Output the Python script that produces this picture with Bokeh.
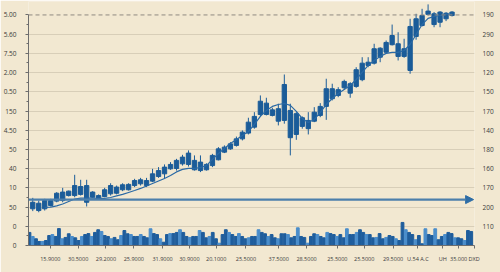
import math
from bokeh.plotting import figure
from bokeh.models import (Range1d, LinearAxis, FixedTicker, Span, Arrow, NormalHead, ColumnDataSource)
from bokeh.embed import file_html
from bokeh.resources import INLINE

# ---------------- data ----------------
open_ = [19.1, 22.0, 19.1, 20.8, 23.1, 23.4, 26.0, 26.0, 26.6, 31.2,
         27.8, 26.0, 25.5, 26.9, 27.2, 29.0, 29.0, 31.2, 32.1, 31.2,
         33.5, 35.9, 37.3, 39.9, 40.1, 42.5, 42.2, 44.3, 43.4, 42.2,
         41.6, 44.6, 48.6, 50.3, 52.1, 55.5, 58.5, 61.6, 68.2, 74.1,
         70.6, 71.2, 65.1, 70.3, 68.6, 66.5, 65.1, 64.7, 67.7, 72.4,
         81.6, 78.1, 82.1, 84.2, 82.8, 86.3, 93.7, 94.9, 102.7, 100.6,
         104.5, 105.0, 102.4, 91.1, 108.8, 114.5, 120.3, 120.6, 121.5, 118.0,
         119.7]
close = [22.5, 18.2, 23.4, 23.4, 27.2, 27.8, 28.3, 31.2, 30.7, 22.5,
         25.1, 24.3, 29.0, 31.2, 30.4, 31.6, 31.8, 33.8, 34.2, 33.8,
         37.3, 39.0, 40.8, 42.2, 44.3, 46.0, 48.1, 39.4, 39.0, 39.4,
         46.9, 50.3, 51.2, 52.9, 55.5, 59.0, 64.2, 67.2, 75.1, 68.2,
         67.7, 64.7, 83.8, 56.1, 57.8, 62.0, 60.8, 69.4, 72.4, 81.6,
         76.4, 81.1, 85.4, 79.3, 91.5, 94.9, 95.4, 102.4, 98.0, 105.7,
         109.3, 98.4, 98.4, 114.0, 118.0, 119.7, 122.0, 115.0, 116.2, 120.9,
         121.5]
high = [24.8, 23.4, 24.3, 24.3, 27.8, 30.0, 28.6, 36.8, 34.2, 34.2,
        28.3, 26.6, 30.0, 32.4, 31.2, 32.4, 32.4, 34.7, 35.2, 35.2,
        39.9, 40.8, 42.2, 43.4, 45.1, 47.2, 49.5, 46.9, 46.9, 42.8,
        47.7, 51.2, 52.1, 53.8, 56.7, 59.9, 66.5, 69.4, 78.1, 76.9,
        71.7, 73.8, 89.0, 73.8, 69.4, 67.2, 69.4, 72.0, 74.1, 86.8,
        84.2, 82.4, 86.3, 85.0, 92.8, 98.0, 98.0, 105.0, 103.2, 106.7,
        115.0, 111.0, 107.6, 118.0, 120.6, 123.2, 125.5, 121.5, 122.0, 121.5,
        122.0]
low = [17.9, 17.3, 18.2, 20.3, 22.5, 22.5, 25.5, 25.1, 26.0, 20.3,
       24.8, 24.0, 25.1, 26.0, 26.6, 28.3, 28.6, 30.4, 31.2, 30.4,
       33.0, 35.2, 34.7, 39.4, 39.0, 41.6, 41.1, 39.0, 38.2, 39.0,
       40.8, 44.3, 48.1, 49.8, 51.5, 54.7, 57.8, 60.8, 67.2, 67.7,
       67.2, 62.5, 63.4, 46.9, 55.0, 60.8, 57.8, 64.2, 66.8, 65.4,
       75.5, 77.2, 81.1, 76.9, 82.1, 85.5, 92.8, 94.2, 95.4, 99.8,
       104.1, 96.3, 97.7, 89.4, 107.1, 114.0, 119.7, 113.6, 113.6, 116.8,
       119.2]
moving_avg = [None, None, 19.8, 20.0, 20.6, 21.6, 22.9, 24.2, 24.7, 24.7,
              24.7, 24.5, 24.5, 25.0, 25.8, 26.6, 27.6, 28.6, 29.7, 31.0,
              32.3, 33.6, 34.9, 36.4, 38.3, 39.6, 40.1, 40.1, 40.6, 41.6,
              44.8, 47.9, 50.5, 53.1, 55.2, 57.3, 59.3, 63.0, 67.2, 70.3,
              72.4, 73.4, 73.9, 72.9, 69.8, 66.1, 64.0, 65.6, 69.2, 73.4,
              76.5, 79.1, 81.2, 83.3, 86.4, 90.1, 93.7, 96.3, 98.4, 100.0,
              100.5, 100.5, 101.5, 104.6, 109.8, 115.0, 118.2, 119.2, 119.7, 120.3,
              120.5]
volume = [6.8, 4.7, 3.5, 2.1, 2.1, 2.6, 5.2, 5.7, 4.7, 8.8, 3.5, 4.2, 6.1, 4.7, 4.0,
          2.6, 4.7, 5.7, 6.2, 4.7, 6.8, 8.2, 7.3, 5.2, 4.7, 3.5, 4.2, 3.0, 5.2, 7.8,
          6.1, 5.7, 4.7, 4.7, 5.7, 4.7, 4.0, 8.7, 6.2, 5.7, 3.5, 1.7, 5.7,
          6.2, 6.2, 6.8, 8.2, 6.8, 4.7, 4.2, 4.7, 4.7, 7.8, 6.8, 4.0, 4.7, 6.8, 3.5,
          1.2, 5.7, 8.2, 6.8, 5.7, 4.7, 6.2, 4.7, 3.5, 4.0, 4.7, 4.7, 8.2, 6.8, 6.1,
          4.7, 5.7, 4.0, 3.5, 6.1, 6.1, 5.7, 4.0, 4.7, 9.2, 4.7, 4.2, 1.2, 4.7, 6.1,
          5.7, 4.7, 4.0, 6.8,
          6.2, 5.7, 4.7, 5.7, 4.0, 8.7, 5.7, 5.7, 6.8, 8.2, 6.8, 5.7, 5.7, 4.0, 4.2,
          6.2, 3.5, 4.2, 5.2, 4.7, 3.5, 2.6, 12.0, 8.2, 6.8, 5.7, 3.0, 5.2, 0.9, 8.7,
          5.7, 5.2, 8.7, 3.0, 4.7, 5.7, 6.8, 6.2, 4.0, 4.0, 3.5, 2.6, 7.8, 7.3]
reference_level = 23.9
top_level = 120

x_tick_labels = ["15.9000", "30.5000", "29.2000", "25.9000", "31.9000", "30.9000",
                 "20.1000", "25.5000", "37.5000", "28.5000", "25.5000", "25.5000",
                 "29.5000", "U.54 A.C", "UH", "35.000", "DXD"]
left_tick_values = [0, 10, 20, 30, 40, 50, 60, 70, 80, 90, 100, 110, 120]
left_tick_labels = ["0", "0", "50", "10", "40", "50", "4.50", "150", "0.50", "2.00",
                    "7.50", "5.60", "5.00"]
right_tick_values = [10, 20, 30, 40, 50, 60, 70, 80, 90, 100, 110, 120]
right_tick_labels = ["110", "200", "170", "160", "180", "140", "170", "150", "120",
                     "100", "290", "190"]

# ---------------- styling ----------------
BG = "#f2e8d1"
CANDLE = "#1b5c99"
VOL_DARK = "#1f5d9c"
VOL_LIGHT = "#4a8dcb"
TEXT = "#3a3a3a"
FONT = "Open Sans"

n = len(open_)
idx = list(range(n))
src = ColumnDataSource(dict(
    x=idx,
    top=[max(o, c) for o, c in zip(open_, close)],
    bottom=[min(o, c) for o, c in zip(open_, close)],
    high=high, low=low,
    ma=[float("nan") if v is None else v for v in moving_avg],
))
vsrc = ColumnDataSource(dict(
    k=list(range(len(volume))),
    v=volume,
    color=[VOL_LIGHT if k % 3 == 1 else VOL_DARK for k in range(len(volume))],
))

p = figure(width=500, height=272, output_backend="svg", toolbar_location=None,
           x_range=Range1d(-0.71, 73.75), y_range=Range1d(0, 127),
           min_border_left=25, min_border_right=26, min_border_top=1, min_border_bottom=27)
p.background_fill_color = BG
p.border_fill_color = BG
p.outline_line_color = None
p.extra_x_ranges = {"vol": Range1d(-0.3, 136.0)}

# volume
p.vbar(x="k", top="v", bottom=0, width=0.85, color="color", source=vsrc, x_range_name="vol")

# grid
p.xgrid.visible = False
p.ygrid.ticker = FixedTicker(ticks=[10, 20, 30, 40, 50, 60, 70, 80, 90, 100, 110])
p.ygrid.grid_line_color = "#d8ceb8"
p.ygrid.grid_line_width = 1

# top dashed line
p.add_layout(Span(location=top_level, dimension="width", line_color="#8f8a80",
                  line_dash="4 3", line_width=1))

# reference arrow
p.add_layout(Arrow(end=NormalHead(size=8, fill_color="#2e6da6", line_color="#2e6da6"),
                   x_start=-0.71, y_start=reference_level, x_end=73.6, y_end=reference_level,
                   line_color="#4c7fab", line_width=2.4))

# candles
p.segment(x0="x", y0="low", x1="x", y1="high", source=src, line_color=CANDLE, line_width=1)
p.vbar(x="x", top="top", bottom="bottom", width=0.72, source=src,
       fill_color=CANDLE, line_color=CANDLE)
p.line(x="x", y="ma", source=src, line_color="#2a69a5", line_width=1.2)

# axes
xa = p.xaxis[0]
x_tick_pos = [2.94, 7.58, 12.22, 16.87, 21.67, 26.15, 30.63, 35.6, 41.07, 45.71,
              50.85, 55.34, 60.15, 64.3, 68.44, 71.1, 73.7]
xa.ticker = FixedTicker(ticks=x_tick_pos, minor_ticks=[])
xa.bounds = (-0.71, 74.7)
xa.major_label_overrides = {t: lab for t, lab in zip(x_tick_pos, x_tick_labels)}
xa.axis_line_color = "#6d6d6d"
xa.major_tick_line_color = "#6d6d6d"
xa.major_tick_out = 3
xa.major_tick_in = 0
xa.major_label_standoff = 6
xa.major_label_text_font = FONT
xa.major_label_text_font_size = "5.5px"
xa.major_label_text_color = TEXT

ya = p.yaxis[0]
ya.ticker = FixedTicker(ticks=left_tick_values, minor_ticks=[5 + 10 * i for i in range(12)])
ya.major_label_overrides = {t: lab for t, lab in zip(left_tick_values, left_tick_labels)}
ya.bounds = (0, top_level)
ya.axis_line_color = "#6d6d6d"
ya.major_tick_line_color = "#6d6d6d"
ya.minor_tick_line_color = "#6d6d6d"
ya.major_tick_out = 3
ya.major_tick_in = 0
ya.minor_tick_out = 2
ya.minor_tick_in = 0
ya.major_label_standoff = 9
ya.major_label_text_font = FONT
ya.major_label_text_font_size = "6.5px"
ya.major_label_text_color = TEXT

ra = LinearAxis(ticker=FixedTicker(ticks=right_tick_values, minor_ticks=[]))
ra.major_label_overrides = {t: lab for t, lab in zip(right_tick_values, right_tick_labels)}
ra.axis_line_color = None
ra.major_tick_line_color = None
ra.minor_tick_line_color = None
ra.major_label_standoff = 2
ra.major_label_text_font = FONT
ra.major_label_text_font_size = "6.5px"
ra.major_label_text_color = TEXT
p.add_layout(ra, "right")

open("out.html", "w").write(file_html(p, INLINE))
